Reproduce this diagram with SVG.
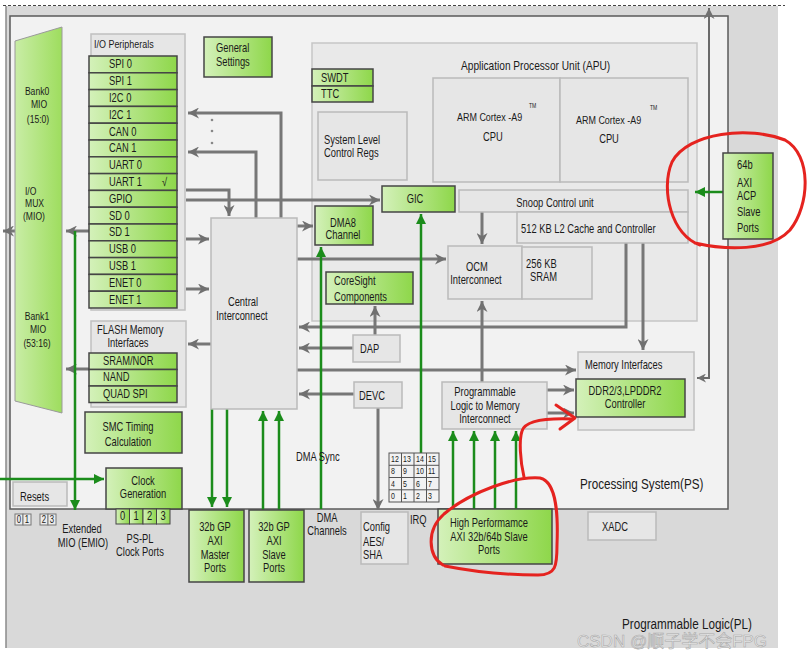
<svg xmlns="http://www.w3.org/2000/svg" width="809" height="657" viewBox="0 0 809 657">
<defs>
<linearGradient id="gg" x1="0" y1="0" x2="1" y2="0"><stop offset="0" stop-color="#d4f1ba"/><stop offset="1" stop-color="#8ed74a"/></linearGradient>
<linearGradient id="gm" x1="0" y1="0" x2="1" y2="0"><stop offset="0" stop-color="#c9eda6"/><stop offset="1" stop-color="#9edd5e"/></linearGradient>
<marker id="ah" viewBox="0 0 10 10" refX="10" refY="5" markerWidth="11" markerHeight="11" markerUnits="userSpaceOnUse" orient="auto"><path d="M0,0 L10,5 L0,10 L3,5 z" fill="#707070"/></marker>
<marker id="ahs" viewBox="0 0 10 10" refX="0" refY="5" markerWidth="9" markerHeight="9" markerUnits="userSpaceOnUse" orient="auto"><path d="M10,0 L0,5 L10,10 L7,5 z" fill="#707070"/></marker>
<marker id="gh" viewBox="0 0 10 10" refX="10" refY="5" markerWidth="10" markerHeight="10" markerUnits="userSpaceOnUse" orient="auto"><path d="M0,0 L10,5 L0,10 z" fill="#1b8c1b"/></marker>
<style>
.t{font-family:"Liberation Sans",Arial,sans-serif;font-size:12px;fill:#1a1a1a;transform-box:fill-box;transform-origin:0% 50%;transform:scaleX(0.78)}
.c{text-anchor:middle;transform-origin:50% 50%}
.s{font-size:9px}
.m{font-size:11px}
.g{fill:url(#gg);stroke:#454545;stroke-width:1.5}
.b{fill:#e6e6e6;stroke:#bababa;stroke-width:1.5}
.a{fill:none;stroke:#777;stroke-width:3;marker-end:url(#ah)}
.gr{fill:none;stroke:#1b8c1b;stroke-width:2.5;marker-end:url(#gh)}
.r{fill:none;stroke:#e5231f;stroke-width:3;stroke-linecap:round;stroke-linejoin:round}
</style>
</defs>
<rect x="0" y="0" width="809" height="657" fill="#ffffff"/>
<rect x="6" y="6" width="772" height="642" fill="#d9d9d9"/>
<line x1="3" y1="5.5" x2="785" y2="5.5" stroke="#444" stroke-width="1" stroke-dasharray="3,2"/>
<line x1="6" y1="6" x2="6" y2="648" stroke="#8a8a8a" stroke-width="1.5"/>
<g id="ps">
<rect x="10" y="16" width="718" height="493" fill="#f2f2f2" stroke="#5a5a5a" stroke-width="1.5"/>
<text class="t" x="580" y="489" style="font-size:15px">Processing System(PS)</text>
</g>
<g id="apu-area"><rect x="312" y="43" width="385" height="278" fill="#e9e9e9" stroke="#c6c6c6" stroke-width="1.5"/>
<text class="t" x="461" y="70" style="font-size:13px">Application Processor Unit (APU)</text></g>
<g id="mem-if"><rect x="578" y="352" width="116" height="78" fill="#e9e9e9" stroke="#c0c0c0" stroke-width="1.5"/>
<text class="t" x="585" y="369">Memory Interfaces</text></g>
<text class="t" x="622" y="629" style="font-size:15px">Programmable Logic(PL)</text>
<text x="577" y="647" style="font-family:'Liberation Sans','Noto Sans CJK SC',sans-serif;font-size:17px;fill:#ececec;stroke:#a9a9a9;stroke-width:0.6">CSDN @顺子学不会FPG</text>

<g id="connectors">
<path class="a" d="M186 239 H209"/>
<path class="a" d="M186 289 H209"/>
<path class="a" d="M211 344 H188"/>
<path class="a" d="M281 218 V113 H188"/>
<path class="a" d="M256 218 V152 H188"/>
<path class="a" d="M186 190 H229 V216"/>
<path class="a" d="M186 200 H380"/>
<path class="a" d="M297 226 H313"/>
<path class="a" d="M297 259 H446"/>
<path class="a" d="M626 243 V327 H299"/>
<path class="a" d="M353 348 H299"/>
<path class="a" d="M375 335 V306"/>
<path class="a" d="M297 370 H576"/>
<path class="a" d="M354 394 H299"/>
<path class="a" d="M378 408 V510"/>
<path class="a" d="M482 212 V244"/>
<path class="a" d="M482 382 V301"/>
<path class="a" d="M643 243 V350"/>
<path class="a" d="M547 390 H574"/>
<path class="a" d="M547 413 H574"/>
<path d="M697 378 H709 V8" fill="none" stroke="#6a6a6a" stroke-width="2" marker-start="url(#ahs)" marker-end="url(#ah)"/>
<path class="a" d="M89 231 H66"/>
<path class="a" d="M89 369 H66"/>
<path class="a" d="M15 231 H3"/>
<circle cx="212" cy="120" r="1.3" fill="#888"/><circle cx="212" cy="131" r="1.3" fill="#888"/><circle cx="212" cy="143" r="1.3" fill="#888"/>
<path class="gr" d="M723 192 H695"/>
<path class="gr" d="M321 509 V247"/>
<path class="gr" d="M421 453 V214"/>
<path class="gr" d="M212 409 V507"/>
<path class="gr" d="M227 409 V507"/>
<path class="gr" d="M263 510 V411"/>
<path class="gr" d="M279 510 V411"/>
<path class="gr" d="M453 509 V431"/>
<path class="gr" d="M474 509 V431"/>
<path class="gr" d="M495 509 V431"/>
<path class="gr" d="M516 509 V431"/>
<path class="gr" d="M75 231 V510"/>
<path class="gr" d="M0 479 H104"/>
</g>

<g id="mio">
<polygon points="15,41 62,27 62,413 15,401" fill="url(#gm)" stroke="#9a9a9a" stroke-width="1"/>
<text class="t c m" x="37" y="95">Bank0</text><text class="t c m" x="39" y="108">MIO</text><text class="t c m" x="38" y="123">(15:0)</text>
<text class="t m" x="25" y="195">I/O</text><text class="t m" x="25" y="207.5">MUX</text><text class="t m" x="23" y="220">(MIO)</text>
<text class="t c m" x="37" y="320">Bank1</text><text class="t c m" x="38" y="333">MIO</text><text class="t c m" x="37" y="347">(53:16)</text>
</g>

<g id="io-peripherals">
<rect x="91" y="34" width="94" height="276" fill="#e6e6e6" stroke="#c0c0c0" stroke-width="1.5"/>
<text class="t" x="94" y="48" style="font-size:11.5px">I/O Peripherals</text>
<rect class="g" x="89" y="56" width="88" height="16.8"/><text class="t" x="109" y="68.5">SPI 0</text>
<rect class="g" x="89" y="72.8" width="88" height="16.8"/><text class="t" x="109" y="85.3">SPI 1</text>
<rect class="g" x="89" y="89.6" width="88" height="16.8"/><text class="t" x="109" y="102.1">I2C 0</text>
<rect class="g" x="89" y="106.4" width="88" height="16.8"/><text class="t" x="109" y="118.9">I2C 1</text>
<rect class="g" x="89" y="123.2" width="88" height="16.8"/><text class="t" x="109" y="135.7">CAN 0</text>
<rect class="g" x="89" y="140" width="88" height="16.8"/><text class="t" x="109" y="152.5">CAN 1</text>
<rect class="g" x="89" y="156.8" width="88" height="16.8"/><text class="t" x="109" y="169.3">UART 0</text>
<rect class="g" x="89" y="173.6" width="88" height="16.8"/><text class="t" x="109" y="186.1">UART 1</text><text class="t" x="162" y="186.1">√</text>
<rect class="g" x="89" y="190.4" width="88" height="16.8"/><text class="t" x="109" y="202.9">GPIO</text>
<rect class="g" x="89" y="207.2" width="88" height="16.8"/><text class="t" x="109" y="219.7">SD 0</text>
<rect class="g" x="89" y="224" width="88" height="16.8"/><text class="t" x="109" y="236.5">SD 1</text>
<rect class="g" x="89" y="240.8" width="88" height="16.8"/><text class="t" x="109" y="253.3">USB 0</text>
<rect class="g" x="89" y="257.6" width="88" height="16.8"/><text class="t" x="109" y="270.1">USB 1</text>
<rect class="g" x="89" y="274.4" width="88" height="16.8"/><text class="t" x="109" y="286.9">ENET 0</text>
<rect class="g" x="89" y="291.2" width="88" height="16.8"/><text class="t" x="109" y="303.7">ENET 1</text>
</g>

<g id="flash">
<rect x="91" y="321" width="95" height="86" fill="#e6e6e6" stroke="#c0c0c0" stroke-width="1.5"/>
<text class="t" x="97" y="334">FLASH Memory</text><text class="t c" x="128" y="347">Interfaces</text>
<rect class="g" x="89" y="353" width="88" height="16.5"/><text class="t" x="103" y="365">SRAM/NOR</text>
<rect class="g" x="89" y="369.5" width="88" height="16.5"/><text class="t" x="103" y="381.5">NAND</text>
<rect class="g" x="89" y="386" width="88" height="16.5"/><text class="t" x="103" y="398">QUAD SPI</text>
</g>

<g id="smc"><rect class="g" x="85" y="412" width="97" height="41"/><text class="t c" x="128" y="431">SMC Timing</text><text class="t c" x="128" y="446">Calculation</text></g>
<g id="clock-gen"><rect class="g" x="106" y="468" width="76" height="41"/><text class="t c" x="143" y="485">Clock</text><text class="t c" x="143" y="498">Generation</text></g>
<g id="clock-ports">
<rect class="g" x="116" y="509" width="13.5" height="15" style="stroke-width:1"/><text class="t c" x="122.7" y="520.5">0</text>
<rect class="g" x="129.5" y="509" width="13.5" height="15" style="stroke-width:1"/><text class="t c" x="136.2" y="520.5">1</text>
<rect class="g" x="143" y="509" width="13.5" height="15" style="stroke-width:1"/><text class="t c" x="149.7" y="520.5">2</text>
<rect class="g" x="156.5" y="509" width="13.5" height="15" style="stroke-width:1"/><text class="t c" x="163.2" y="520.5">3</text>
<text class="t c" x="140" y="543">PS-PL</text><text class="t c" x="140" y="556">Clock Ports</text>
</g>
<g id="resets"><rect class="b" x="13" y="482" width="54" height="24"/><text class="t" x="20" y="501">Resets</text></g>
<g id="emio">
<rect x="15" y="514" width="8" height="11" fill="#ececec" stroke="#777" stroke-width="1"/><text class="t c" x="19" y="523" style="font-size:10px">0</text>
<rect x="23" y="514" width="8" height="11" fill="#ececec" stroke="#777" stroke-width="1"/><text class="t c" x="27" y="523" style="font-size:10px">1</text>
<rect x="40" y="514" width="8" height="11" fill="#ececec" stroke="#777" stroke-width="1"/><text class="t c" x="44" y="523" style="font-size:10px">2</text>
<rect x="48" y="514" width="8" height="11" fill="#ececec" stroke="#777" stroke-width="1"/><text class="t c" x="52" y="523" style="font-size:10px">3</text>
<text class="t c" x="82" y="533">Extended</text><text class="t c" x="83" y="547">MIO (EMIO)</text>
</g>

<g id="general-settings"><rect class="g" x="204" y="37" width="68" height="40"/><text class="t" x="216" y="52">General</text><text class="t" x="216" y="66">Settings</text></g>
<g id="central-interconnect"><rect class="b" x="211" y="218" width="86" height="191"/><text class="t c" x="243" y="306">Central</text><text class="t c" x="242" y="320">Interconnect</text></g>
<g id="swdt"><rect class="g" x="312" y="69" width="61" height="17"/><text class="t" x="321" y="82">SWDT</text></g>
<g id="ttc"><rect class="g" x="312" y="86" width="61" height="16"/><text class="t" x="321" y="98">TTC</text></g>
<g id="slcr"><rect class="b" x="318" y="112" width="89" height="68"/><text class="t" x="324" y="144">System Level</text><text class="t" x="324" y="157">Control Regs</text></g>
<g id="cpu0"><rect class="b" x="433" y="78" width="127" height="104"/><text class="t" x="457" y="121" style="font-size:11.5px">ARM Cortex -A9</text><text class="t" x="529" y="108" style="font-size:6.5px">TM</text><text class="t c" x="493" y="141">CPU</text></g>
<g id="cpu1"><rect class="b" x="560" y="78" width="128" height="104"/><text class="t" x="576" y="124" style="font-size:11.5px">ARM Cortex -A9</text><text class="t" x="650" y="110" style="font-size:6.5px">TM</text><text class="t c" x="609" y="143">CPU</text></g>
<g id="gic"><rect class="g" x="382" y="186" width="73" height="26"/><text class="t c" x="415" y="203">GIC</text></g>
<g id="snoop"><rect class="b" x="459" y="190" width="229" height="22"/><text class="t c" x="555" y="207">Snoop Control unit</text></g>
<g id="l2"><rect class="b" x="517" y="212" width="171" height="31"/><text class="t" x="521" y="233">512 KB L2 Cache and Controller</text></g>
<g id="dma8"><rect class="g" x="315" y="206" width="58" height="39"/><text class="t c" x="343" y="227">DMA8</text><text class="t c" x="343" y="239">Channel</text></g>
<g id="ocm"><rect class="b" x="448" y="246" width="74" height="53"/><text class="t c" x="477" y="271">OCM</text><text class="t c" x="476" y="284">Interconnect</text></g>
<g id="sram"><rect class="b" x="522" y="247" width="70" height="52"/><text class="t" x="526" y="268">256 KB</text><text class="t" x="530" y="281">SRAM</text></g>
<g id="coresight"><rect class="g" x="326" y="272" width="87" height="32"/><text class="t" x="334" y="285">CoreSight</text><text class="t" x="334" y="301">Components</text></g>
<g id="dap"><rect class="b" x="353" y="335" width="47" height="27"/><text class="t" x="360" y="353">DAP</text></g>
<g id="devc"><rect class="b" x="354" y="382" width="48" height="26"/><text class="t" x="359" y="400">DEVC</text></g>
<g id="pl-mem"><rect class="b" x="442" y="382" width="105" height="47"/><text class="t c" x="485" y="396">Programmable</text><text class="t c" x="485" y="410">Logic to Memory</text><text class="t c" x="485" y="423">Interconnect</text></g>
<g id="ddr"><rect class="g" x="576" y="379" width="109" height="38"/><text class="t c" x="625" y="395">DDR2/3,LPDDR2</text><text class="t c" x="625" y="408">Controller</text></g>
<g id="acp"><rect class="g" x="723" y="153" width="50" height="86"/><text class="t" x="737" y="169">64b</text><text class="t" x="737" y="187">AXI</text><text class="t" x="737" y="200">ACP</text><text class="t" x="737" y="216">Slave</text><text class="t" x="737" y="232">Ports</text></g>
<g id="gp-master"><rect class="g" x="189" y="510" width="55" height="72"/><text class="t c" x="215" y="531">32b GP</text><text class="t c" x="215" y="545">AXI</text><text class="t c" x="215" y="559">Master</text><text class="t c" x="215" y="572">Ports</text></g>
<g id="gp-slave"><rect class="g" x="249" y="510" width="55" height="72"/><text class="t c" x="274" y="531">32b GP</text><text class="t c" x="274" y="545">AXI</text><text class="t c" x="274" y="559">Slave</text><text class="t c" x="274" y="572">Ports</text></g>
<g id="dma-labels"><text class="t" x="296" y="461">DMA Sync</text><text class="t c" x="327" y="522">DMA</text><text class="t c" x="327" y="535">Channels</text></g>
<g id="config"><rect class="b" x="361" y="512" width="47" height="52"/><text class="t" x="363" y="531">Config</text><text class="t" x="363" y="546">AES/</text><text class="t" x="363" y="559">SHA</text></g>
<text class="t" x="410" y="524">IRQ</text>
<g id="irq-grid">
<rect x="389" y="453" width="50" height="49" fill="#f2f2f2" stroke="#555" stroke-width="1"/>
<path d="M401.5 453 V502 M414 453 V502 M426.5 453 V502 M389 465.3 H439 M389 477.5 H439 M389 489.8 H439" stroke="#555" stroke-width="1" fill="none"/>
<text class="t s" x="391" y="462.5">12</text><text class="t s" x="403" y="462.5">13</text><text class="t s" x="416" y="462.5">14</text><text class="t s" x="428" y="462.5">15</text>
<text class="t s" x="391" y="474.5">8</text><text class="t s" x="403" y="474.5">9</text><text class="t s" x="416" y="474.5">10</text><text class="t s" x="428" y="474.5">11</text>
<text class="t s" x="391" y="487">4</text><text class="t s" x="403" y="487">5</text><text class="t s" x="416" y="487">6</text><text class="t s" x="428" y="487">7</text>
<text class="t s" x="391" y="499">0</text><text class="t s" x="403" y="499">1</text><text class="t s" x="416" y="499">2</text><text class="t s" x="428" y="499">3</text>
</g>
<g id="hp"><rect class="g" x="438" y="509" width="114" height="55"/><text class="t c" x="489" y="527">High Performamce</text><text class="t c" x="489" y="541">AXI 32b/64b Slave</text><text class="t c" x="489" y="554">Ports</text></g>
<g id="xadc"><rect class="b" x="588" y="512" width="68" height="28"/><text class="t" x="602" y="531">XADC</text></g>

<g id="annotations">
<path class="r" d="M700 245 C672 236 660 190 672 162 C688 132 750 126 785 140 C812 155 810 205 790 230 C770 252 725 250 695 243"/>
<path class="r" d="M443 565 C428 556 426 530 444 514 C470 492 515 476 540 478 C558 482 558 520 557 545 C557 566 556 575 538 575 C505 575 470 571 445 566"/>
<path class="r" d="M524 477 C520 460 519 440 522 431 C525 421 545 418 572 419"/>
<path class="r" d="M556 405 L575 418 L560 429"/>
</g>
</svg>
